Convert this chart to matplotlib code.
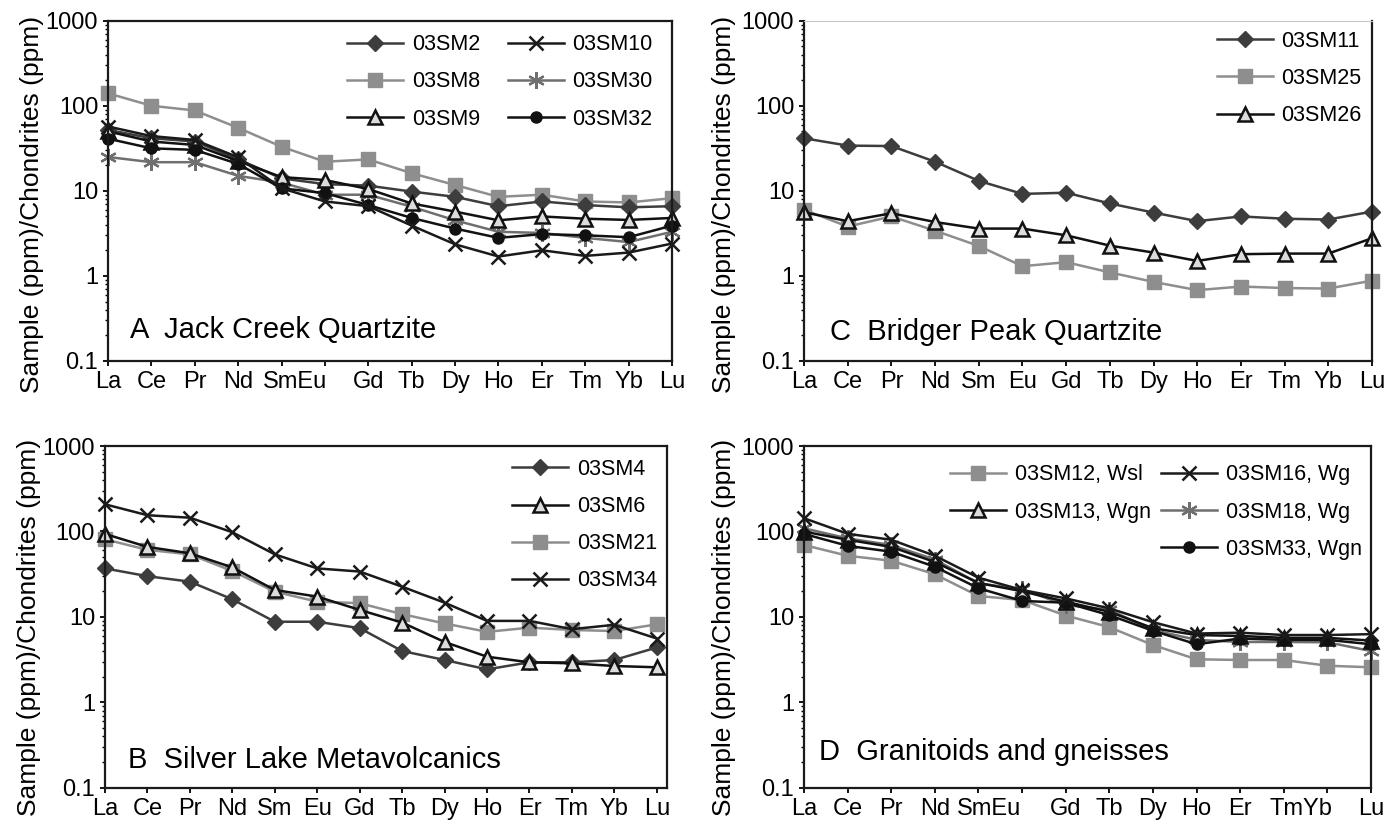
import matplotlib.pyplot as plt
from matplotlib.ticker import LogLocator, NullFormatter

plt.rcParams['font.family'] = ['Liberation Sans', 'DejaVu Sans']

ree = ['La', 'Ce', 'Pr', 'Nd', 'Sm', 'Eu', 'Gd', 'Tb', 'Dy', 'Ho', 'Er', 'Tm', 'Yb', 'Lu']

# A  Jack Creek Quartzite
sm2 = [52, 41.5, 38, 23.5, 14, 12, 11.5, 9.8, 8.5, 6.6, 7.5, 6.8, 6.4, 6.6]
sm8 = [140, 100, 88, 55, 33, 22, 23.4, 16.1, 11.7, 8.5, 9.0, 7.5, 7.3, 8.2]
sm9 = [50, 38, 34.6, 22.4, 14.5, 13.4, 10.5, 7.1, 5.7, 4.5, 5.0, 4.7, 4.55, 4.8]
sm10 = [57, 44, 39.6, 24.8, 10.7, 7.5, 6.6, 3.9, 2.35, 1.69, 2.0, 1.72, 1.88, 2.4]
sm30 = [25, 21.7, 21.7, 15, 12.5, 9.0, 9.0, 6.5, 4.5, 3.3, 3.2, 2.8, 2.5, 3.3]
sm32 = [41, 31.6, 30.3, 20.7, 10.7, 9.4, 6.8, 4.8, 3.6, 2.8, 3.1, 3.0, 2.85, 3.9]

# C  Bridger Peak Quartzite
sm11 = [41.5, 34, 33.6, 22, 13.1, 9.2, 9.5, 7.1, 5.55, 4.4, 5.0, 4.7, 4.6, 5.7]
sm25 = [6.0, 3.8, 5.0, 3.4, 2.25, 1.3, 1.45, 1.1, 0.85, 0.68, 0.75, 0.72, 0.71, 0.88]
sm26 = [5.6, 4.4, 5.45, 4.3, 3.6, 3.6, 3.0, 2.27, 1.88, 1.5, 1.8, 1.83, 1.83, 2.77]

# B  Silver Lake Metavolcanics
sm4 = [37, 30, 25.9, 16.1, 8.8, 8.8, 7.4, 4.0, 3.14, 2.44, 2.95, 2.95, 3.14, 4.4]
sm6 = [93.6, 66, 55.6, 38, 20.7, 17.3, 12.1, 8.6, 5.1, 3.43, 2.95, 2.87, 2.67, 2.58]
sm21 = [81, 61, 54, 34.5, 19.8, 15.1, 14.5, 10.8, 8.4, 6.7, 7.5, 7.05, 6.85, 8.2]
sm34 = [208, 155, 145, 98, 54, 37, 34, 22.6, 14.7, 9.0, 9.0, 7.2, 8.1, 5.6]

# D  Granitoids and gneisses
sm12 = [69.5, 52, 45.5, 31.6, 17.6, 15.8, 10.4, 7.6, 4.7, 3.2, 3.14, 3.14, 2.69, 2.58]
sm13 = [99.6, 80, 66, 44, 25, 20, 15.1, 11.5, 7.4, 6.15, 6.0, 5.7, 5.7, 5.3]
sm16 = [143, 94, 80, 52, 28.8, 20.7, 16.5, 12.6, 8.7, 6.4, 6.55, 6.15, 6.15, 6.3]
sm18 = [109, 83, 69.5, 47, 24.8, 21, 13.8, 12.1, 7.05, 5.4, 5.1, 5.1, 5.06, 4.0]
sm33 = [93.6, 68, 58, 38.7, 21.7, 15.4, 14.7, 10.5, 6.9, 4.8, 5.6, 5.4, 5.4, 4.8]

# line / marker styles
diamond = dict(color='#3d3d3d', marker='D', ms=8, mfc='#3d3d3d', mec='#3d3d3d')
square = dict(color='#8e8e8e', marker='s', ms=10, mfc='#8e8e8e', mec='#8e8e8e')
triangle = dict(color='#111111', marker='^', ms=9.5, mfc='#dcdcdc', mec='#111111', mew=1.8)
cross = dict(color='#1a1a1a', marker='x', ms=9.5, mec='#1a1a1a', mew=1.8)
aster = dict(color='#6f6f6f', marker=(6, 2, 0), ms=12, mec='#6f6f6f', mew=1.6)
circle = dict(color='#111111', marker='o', ms=8, mfc='#111111', mec='#111111')

fig = plt.figure(figsize=(13.85, 8.27), dpi=100)
axA = fig.add_axes([0.078, 0.5635, 0.4072, 0.4115])
axC = fig.add_axes([0.5805, 0.5635, 0.4101, 0.4115])
axB = fig.add_axes([0.0758, 0.0472, 0.4058, 0.4135])
axD = fig.add_axes([0.5805, 0.0472, 0.4094, 0.4135])

x = list(range(len(ree)))
legkw = dict(frameon=False, fontsize=15.5, handlelength=2.6, labelspacing=0.75,
             handletextpad=0.4, borderpad=0, borderaxespad=0)


def setup(ax, labels, merged, xmax, ylab_x, ylab_y):
    ax.set_yscale('log')
    ax.set_ylim(0.1, 1000)
    ax.set_xlim(0, xmax)
    ax.set_yticks([0.1, 1, 10, 100, 1000])
    ax.set_yticklabels(['0.1', '1', '10', '100', '1000'])
    ax.yaxis.set_minor_locator(LogLocator(base=10, subs=range(2, 10)))
    ax.yaxis.set_minor_formatter(NullFormatter())
    ax.set_xticks(x)
    ax.set_xticklabels(labels)
    if merged:
        ax.set_xticks([m[0] for m in merged], [m[1] for m in merged], minor=True)
    ax.tick_params(axis='both', which='major', direction='out', length=3.6,
                   width=1.3, labelsize=17, pad=3.5)
    ax.tick_params(axis='y', which='minor', direction='out', length=2.4, width=1)
    ax.tick_params(axis='x', which='minor', length=0, labelsize=17, pad=7.1)
    ax.set_ylabel('Sample (ppm)/Chondrites (ppm)', fontsize=19)
    ax.yaxis.set_label_coords(ylab_x, ylab_y)
    for s in ax.spines.values():
        s.set_linewidth(1.6)
        s.set_color('#1a1a1a')


def draw(ax, series):
    handles = []
    for vals, name, st in series:
        h, = ax.plot(x, vals, lw=1.8, label=name, clip_on=False, **st)
        handles.append(h)
    return handles


# panel A
hA = draw(axA, [(sm8, '03SM8', square), (sm30, '03SM30', aster), (sm2, '03SM2', diamond),
                (sm9, '03SM9', triangle), (sm32, '03SM32', circle), (sm10, '03SM10', cross)])
labA = ['La', 'Ce', 'Pr', 'Nd', '', '', 'Gd', 'Tb', 'Dy', 'Ho', 'Er', 'Tm', 'Yb', 'Lu']
setup(axA, labA, [(4.3, 'SmEu')], 13, -0.114, 0.46)
order = [2, 0, 3, 5, 1, 4]
axA.legend([hA[i] for i in order], [hA[i].get_label() for i in order], ncol=2,
           loc='upper right', bbox_to_anchor=(0.966, 0.960), columnspacing=1.3, **legkw)
axA.text(0.039, 0.09, 'A  Jack Creek Quartzite', transform=axA.transAxes,
         fontsize=21, va='center', ha='left')

# panel C
hC = draw(axC, [(sm25, '03SM25', square), (sm11, '03SM11', diamond), (sm26, '03SM26', triangle)])
setup(axC, ree, None, 13, -0.12, 0.46)
axC.spines['top'].set_color('#c8c8c8')
axC.spines['top'].set_linewidth(0.8)
axC.legend([hC[1], hC[0], hC[2]], ['03SM11', '03SM25', '03SM26'], loc='upper right',
           bbox_to_anchor=(0.982, 0.970), **legkw)
axC.text(0.046, 0.085, 'C  Bridger Peak Quartzite', transform=axC.transAxes,
         fontsize=21, va='center', ha='left')

# panel B
hB = draw(axB, [(sm21, '03SM21', square), (sm4, '03SM4', diamond), (sm6, '03SM6', triangle),
                (sm34, '03SM34', cross)])
setup(axB, ree, None, 13.24, -0.114, 0.47)
axB.legend([hB[1], hB[2], hB[0], hB[3]], ['03SM4', '03SM6', '03SM21', '03SM34'],
           loc='upper right', bbox_to_anchor=(0.982, 0.962), **legkw)
axB.text(0.041, 0.082, 'B  Silver Lake Metavolcanics', transform=axB.transAxes,
         fontsize=21, va='center', ha='left')

# panel D
hD = draw(axD, [(sm12, '03SM12, Wsl', square), (sm18, '03SM18, Wg', aster),
                (sm13, '03SM13, Wgn', triangle), (sm33, '03SM33, Wgn', circle),
                (sm16, '03SM16, Wg', cross)])
labD = ['La', 'Ce', 'Pr', 'Nd', '', '', 'Gd', 'Tb', 'Dy', 'Ho', 'Er', '', '', 'Lu']
setup(axD, labD, [(4.25, 'SmEu'), (11.4, 'TmYb')], 13, -0.12, 0.47)
blank = plt.Line2D([], [], lw=0)
axD.legend([hD[0], hD[2], blank, hD[4], hD[1], hD[3]],
           ['03SM12, Wsl', '03SM13, Wgn', '', '03SM16, Wg', '03SM18, Wg', '03SM33, Wgn'],
           ncol=2, loc='upper right', bbox_to_anchor=(0.984, 0.946), columnspacing=0.5,
           **legkw)
axD.text(0.027, 0.106, 'D  Granitoids and gneisses', transform=axD.transAxes,
         fontsize=21, va='center', ha='left')

fig.savefig('out.png', dpi=100)
